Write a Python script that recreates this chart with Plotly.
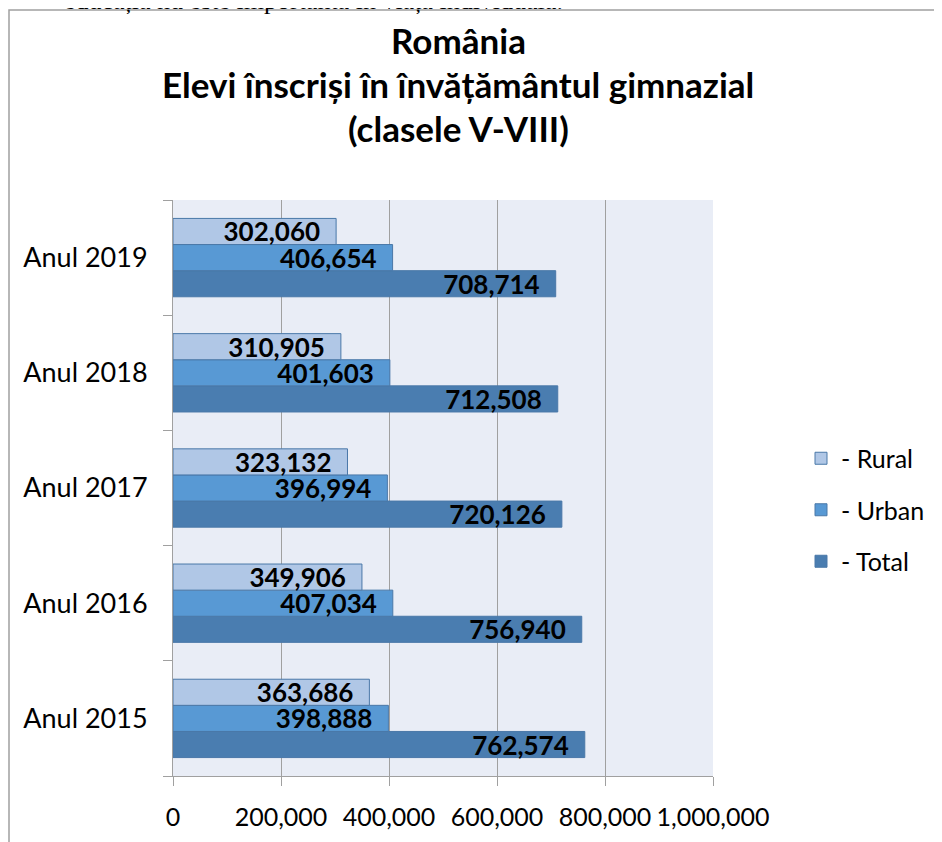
import plotly.graph_objects as go

# values
years = ["Anul 2015", "Anul 2016", "Anul 2017", "Anul 2018", "Anul 2019"]
rural = [363686, 349906, 323132, 310905, 302060]
urban = [398888, 407034, 396994, 401603, 406654]
total = [762574, 756940, 720126, 712508, 708714]
x_ticks = [0, 200000, 400000, 600000, 800000, 1000000]

title_lines = ["România", "Elevi înscriși în învățământul gimnazial", "(clasele V-VIII)"]
page_text = "educația nu este importantă în viața individuală."

FONT = "Lato"
OFF = 8  # the page body margin shifts the figure by 8px
W, H = 942 - OFF, 842 - OFF
# plot area, in window pixels
L, R, T, B = 173, 713, 200, 776


def px_x(x):
    return (x - L) / (R - L)


def px_y(y):
    return (B - y) / (B - T)


fig = go.Figure()
series = [
    ("- Total", total, "#4a7db0", 3),
    ("- Urban", urban, "#5899d4", 2),
    ("- Rural", rural, "#b0c7e6", 1),
]
for name, vals, col, rank in series:
    fig.add_trace(
        go.Bar(
            y=years,
            x=vals,
            orientation="h",
            name=name,
            legendgroup=name,
            legendrank=rank,
            marker=dict(color=col, line=dict(color="#4a78a8", width=1)),
            texttemplate="%{x:,}\u2002",
            textposition="inside",
            insidetextanchor="end",
            constraintext="none",
            textfont=dict(family=FONT, size=26, color="black", weight="bold"),
            hoverinfo="x+name",
        )
    )

annotations = []
for txt, yc in zip(title_lines, [40, 84, 128]):
    annotations.append(
        dict(
            text=txt,
            x=px_x(458),
            y=px_y(yc),
            xref="paper",
            yref="paper",
            xanchor="center",
            yanchor="middle",
            showarrow=False,
            font=dict(family=FONT, size=35, color="black", weight="bold"),
        )
    )
annotations.append(
    dict(
        text=page_text,
        x=px_x(565),
        y=px_y(17),
        xref="paper",
        yref="paper",
        xanchor="right",
        yanchor="bottom",
        showarrow=False,
        font=dict(family="Liberation Serif", size=26, color="black"),
    )
)

fig.update_layout(
    width=W,
    height=H,
    margin=dict(l=L - OFF, r=W - (R - OFF), t=T - OFF, b=H - (B - OFF), autoexpand=False),
    paper_bgcolor="white",
    plot_bgcolor="#e9edf6",
    barmode="group",
    bargap=0.32,
    bargroupgap=0,
    font=dict(family=FONT, size=25, color="black"),
    legend=dict(
        x=px_x(801),
        y=px_y(510),
        xanchor="left",
        yanchor="middle",
        traceorder="grouped",
        tracegroupgap=16,
        font=dict(family=FONT, size=25, color="black"),
        bgcolor="rgba(0,0,0,0)",
    ),
    annotations=annotations,
    shapes=[
        dict(
            type="rect",
            xref="paper",
            yref="paper",
            x0=px_x(OFF + 1),
            y0=px_y(880),
            x1=px_x(980),
            y1=px_y(10),
            line=dict(color="#a0a0a0", width=1.5),
            layer="below",
        )
    ],
)
fig.update_xaxes(
    range=[0, 1000000],
    tickvals=x_ticks,
    tickformat=",",
    showgrid=True,
    gridcolor="#a0a0a0",
    gridwidth=1,
    zeroline=False,
    showline=True,
    linecolor="#a0a0a0",
    ticks="outside",
    ticklen=9,
    tickcolor="#a0a0a0",
    ticklabelstandoff=10,
    tickfont=dict(family=FONT, size=25),
    automargin=False,
)
fig.update_yaxes(
    categoryorder="array",
    categoryarray=years,
    showgrid=False,
    showline=True,
    linecolor="#a0a0a0",
    ticks="outside",
    tickson="boundaries",
    ticklen=9,
    tickcolor="#a0a0a0",
    ticklabelstandoff=19,
    tickfont=dict(family=FONT, size=27),
    automargin=False,
)

fig.write_html("out.html")
